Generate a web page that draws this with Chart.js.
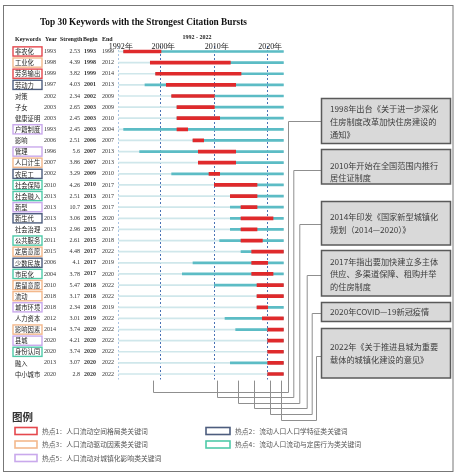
<!DOCTYPE html>
<html><head><meta charset="utf-8">
<script src="https://cdn.jsdelivr.net/npm/chart.js@4.4.1/dist/chart.umd.min.js"></script>
<style>html,body{margin:0;padding:0;background:#fff}#wrap{width:455px;height:474px;position:relative}</style>
</head><body><div id="wrap"><canvas id="c" width="455" height="474"></canvas></div>
<script>
// ---------------- data ----------------
const keywords = ['非农化','工业化','劳务输出','劳动力','对策','子女','健康证明','户籍制度','影响','管理',
  '人口计生','农民工','社会保障','社会融入','新型','新生代','社会治理','公共服务','定居意愿','少数民族',
  '市民化','居留意愿','流动','城市环境','人力资本','影响因素','县城','身份认同','融入','中小城市'];
const hotspot = [1,3,1,2,0,0,0,5,0,5, 3,2,4,4,5,2,0,4,3,2, 4,3,3,5,0,3,5,4,0,0];
const years = [1993,1998,1999,1997,2002,2003,2003,1993,2006,1996,
  2007,2002,2010,2013,2013,2013,2013,2011,2015,2006,
  2004,2010,2018,2018,2012,2014,2020,2020,2013,2020];
const strengths = ['2.53','4.39','3.82','4.03','2.34','2.65','2.45','2.45','2.51','5.6',
  '3.86','3.29','4.26','2.51','10.7','3.06','2.96','2.61','4.48','4.1',
  '3.78','5.47','3.17','2.34','3.01','3.74','4.21','3.74','3.07','2.8'];
const begins = [1993,1998,1999,2001,2002,2003,2003,2003,2006,2007,
  2007,2009,2010,2013,2015,2015,2015,2015,2017,2017,
  2017,2018,2018,2018,2019,2020,2020,2020,2020,2020];
const ends = [1999,2012,2014,2013,2009,2009,2010,2004,2007,2013,
  2013,2010,2017,2017,2017,2020,2017,2018,2022,2019,
  2020,2022,2022,2019,2022,2022,2022,2022,2022,2022];
const rangeStart = 1992, rangeEnd = 2022;
const yearTicks = [1992, 2000, 2010, 2020];
const yearTickLabels = ['1992年','2000年','2010年','2020年'];
const eventYears = [1998, 2010, 2014, 2017, 2020, 2022];
const eventTexts = [
  ['1998年出台《关于进一步深化','住房制度改革加快住房建设的','通知》'],
  ['2010年开始在全国范围内推行','居住证制度'],
  ['2014年印发《国家新型城镇化','规划（2014—2020）》'],
  ['2017年指出要加快建立多主体','供应、多渠道保障、租购并举','的住房制度'],
  ['2020年COVID—19新冠疫情'],
  ['2022年《关于推进县城为重要','载体的城镇化建设的意见》']
];
const legendTitle = '图例';
const legendLabels = {
  1:'热点1：人口流动空间格局类关键词',
  2:'热点2：流动人口人口学特征类关键词',
  3:'热点3：人口流动驱动因素类关键词',
  4:'热点4：流动人口流动与定居行为类关键词',
  5:'热点5：人口流动对城镇化影响类关键词'
};
const titleText = 'Top 30 Keywords with the Strongest Citation Bursts';
const headers = ['Keywords','Year','Strength','Begin','End'];

// ---------------- styles ----------------
const hotColors = {1:'#e5484d',2:'#4d5d7e',3:'#f3b88c',4:'#4fcaa9',5:'#c9a9ec'};
const SERIF = '"Liberation Serif", "DejaVu Serif", serif';
const CJK = '"Noto Sans CJK SC", sans-serif';

const overlay = {
  id:'overlay',
  beforeDraw(chart){
    const ctx = chart.ctx;
    ctx.save();
    ctx.fillStyle = '#fff';
    ctx.fillRect(0,0,chart.width,chart.height);
    ctx.restore();
  },
  afterDraw(chart){
    const ctx = chart.ctx, xs = chart.scales.x, ys = chart.scales.y, ca = chart.chartArea;
    ctx.save();
    // frame
    ctx.strokeStyle = '#777'; ctx.lineWidth = 1;
    ctx.strokeRect(3.5, 5.5, 449.5, 466);
    // title
    ctx.fillStyle = '#111'; ctx.textBaseline = 'middle'; ctx.textAlign = 'left';
    ctx.font = 'bold 9.3px ' + SERIF;
    ctx.fillText(titleText, 40, 22.5);
    // header
    ctx.font = 'bold 6px ' + SERIF; ctx.fillStyle = '#222';
    const hx = [15, 45, 60, 83, 102];
    headers.forEach((h,i)=>ctx.fillText(h, hx[i], 39));
    ctx.textAlign = 'center';
    ctx.fillText(rangeStart + ' - ' + rangeEnd, 197, 37);
    // year tick labels on top
    ctx.font = '8px ' + SERIF; ctx.fillStyle = '#222';
    yearTicks.forEach((y,i)=>{
      ctx.fillText(yearTickLabels[i], xs.getPixelForValue(y) + 2.5, 46.5);
    });
    // table rows
    keywords.forEach((k,i)=>{
      const cy = ys.getPixelForValue(i);
      const hs = hotspot[i];
      if (hs) {
        ctx.strokeStyle = hotColors[hs]; ctx.lineWidth = 1.4;
        ctx.strokeRect(13, cy - 4.6, 29, 9.2);
      }
      ctx.fillStyle = '#222'; ctx.textAlign = 'left';
      ctx.font = '6.3px ' + CJK;
      ctx.fillText(k, 15, cy + 0.3);
      ctx.font = '6px ' + SERIF; ctx.fillStyle = '#333';
      ctx.fillText(String(years[i]), 44, cy);
      ctx.textAlign = 'right';
      ctx.fillText(strengths[i], 80, cy);
      ctx.textAlign = 'left';
      ctx.font = 'bold 6px ' + SERIF;
      ctx.fillText(String(begins[i]), 84, cy);
      ctx.font = '6px ' + SERIF;
      ctx.fillText(String(ends[i]), 102, cy);
    });
    // connectors
    const boxY = [121,170,224,275,313,356];
    const vx = [288,293.3,299.3,306.7,311.7,316];
    const by = [392,397,403,408,414,420];
    ctx.strokeStyle = '#8f8f8f'; ctx.lineWidth = 1;
    eventYears.forEach((ey,k)=>{
      const x0 = Math.round(xs.getPixelForValue(ey + 0.5)) + 0.5;
      ctx.beginPath();
      ctx.moveTo(321.5, boxY[k] + 0.5);
      ctx.lineTo(vx[k] + 0.5, boxY[k] + 0.5);
      ctx.lineTo(vx[k] + 0.5, by[k] + 0.5);
      ctx.lineTo(x0, by[k] + 0.5);
      ctx.lineTo(x0, ca.bottom + 1);
      ctx.stroke();
    });
    // event boxes
    const boxes = [[98.5,143.5],[149.5,184],[201.5,245],[250.5,296],[302.5,321.5],[328.5,378]];
    const lineYs = [[108.5,121.5,134.5],[165.5,178.3],[217.3,229.8],[261.7,274.2,287],[312],[347,359.5]];
    boxes.forEach((b,k)=>{
      ctx.fillStyle = '#d9d9d9'; ctx.strokeStyle = '#5a5a5a'; ctx.lineWidth = 1.5;
      ctx.fillRect(321.5, b[0], 129, b[1]-b[0]);
      ctx.strokeRect(321.5, b[0], 129, b[1]-b[0]);
      ctx.fillStyle = '#3d3d3d'; ctx.font = '8.2px ' + CJK; ctx.textAlign = 'left';
      eventTexts[k].forEach((t,j)=>ctx.fillText(t, 330, lineYs[k][j]));
    });
    // legend
    ctx.fillStyle = '#333'; ctx.font = 'bold 10.5px ' + CJK; ctx.textAlign = 'left';
    ctx.fillText(legendTitle, 12, 417);
    const items = [[1,15,431,22],[3,15,444.5,22],[5,15,458,22],[2,206,431,24],[4,206,444.5,24]];
    items.forEach(([h,x,y,w])=>{
      ctx.strokeStyle = hotColors[h]; ctx.lineWidth = 1.6;
      ctx.strokeRect(x, y - 3.5, w, 7);
      ctx.fillStyle = '#555'; ctx.font = '6.8px ' + CJK;
      ctx.fillText(legendLabels[h], x + w + 5, y + 0.3);
    });
    ctx.restore();
  }
};

const redColor = '#df2a2c', tealColor = '#5cbcc5', faintColor = '#cfe7eb';
const chart = new Chart(document.getElementById('c'), {
  type:'bar',
  data:{
    labels: keywords,
    datasets:[
      {label:'burst', data: begins.map((b,i)=>[b, ends[i] + 1]), backgroundColor: redColor,
        barThickness: 3, grouped:false, order:1, borderWidth:0},
      {label:'active', data: years.map(y=>[Math.max(y, rangeStart), rangeEnd + 1]), backgroundColor: tealColor,
        barThickness: 2, grouped:false, order:2, borderWidth:0},
      {label:'range', data: years.map(()=>[rangeStart, rangeEnd + 1]), backgroundColor: faintColor,
        barThickness: 1, grouped:false, order:3, borderWidth:0}
    ]
  },
  options:{
    indexAxis:'y',
    responsive:false,
    animation:false,
    devicePixelRatio:1,
    layout:{padding:{left:118.3, right:171.3, top:45.9, bottom:94.4}},
    plugins:{legend:{display:false}, tooltip:{enabled:false}, title:{display:false}},
    scales:{
      x:{type:'linear', min:rangeStart, max:rangeEnd + 1, position:'top',
        afterBuildTicks:(s)=>{ s.ticks = yearTicks.map(v=>({value:v})); },
        ticks:{display:false},
        grid:{drawTicks:false, lineWidth:1,
          color:(c)=> (c.tick && c.tick.value === rangeStart) ? '#a9c3e4' : '#4a72b5'},
        border:{display:false, dash:[2,2]}
      },
      y:{display:false, offset:true}
    }
  },
  plugins:[overlay]
});
</script></body></html>
